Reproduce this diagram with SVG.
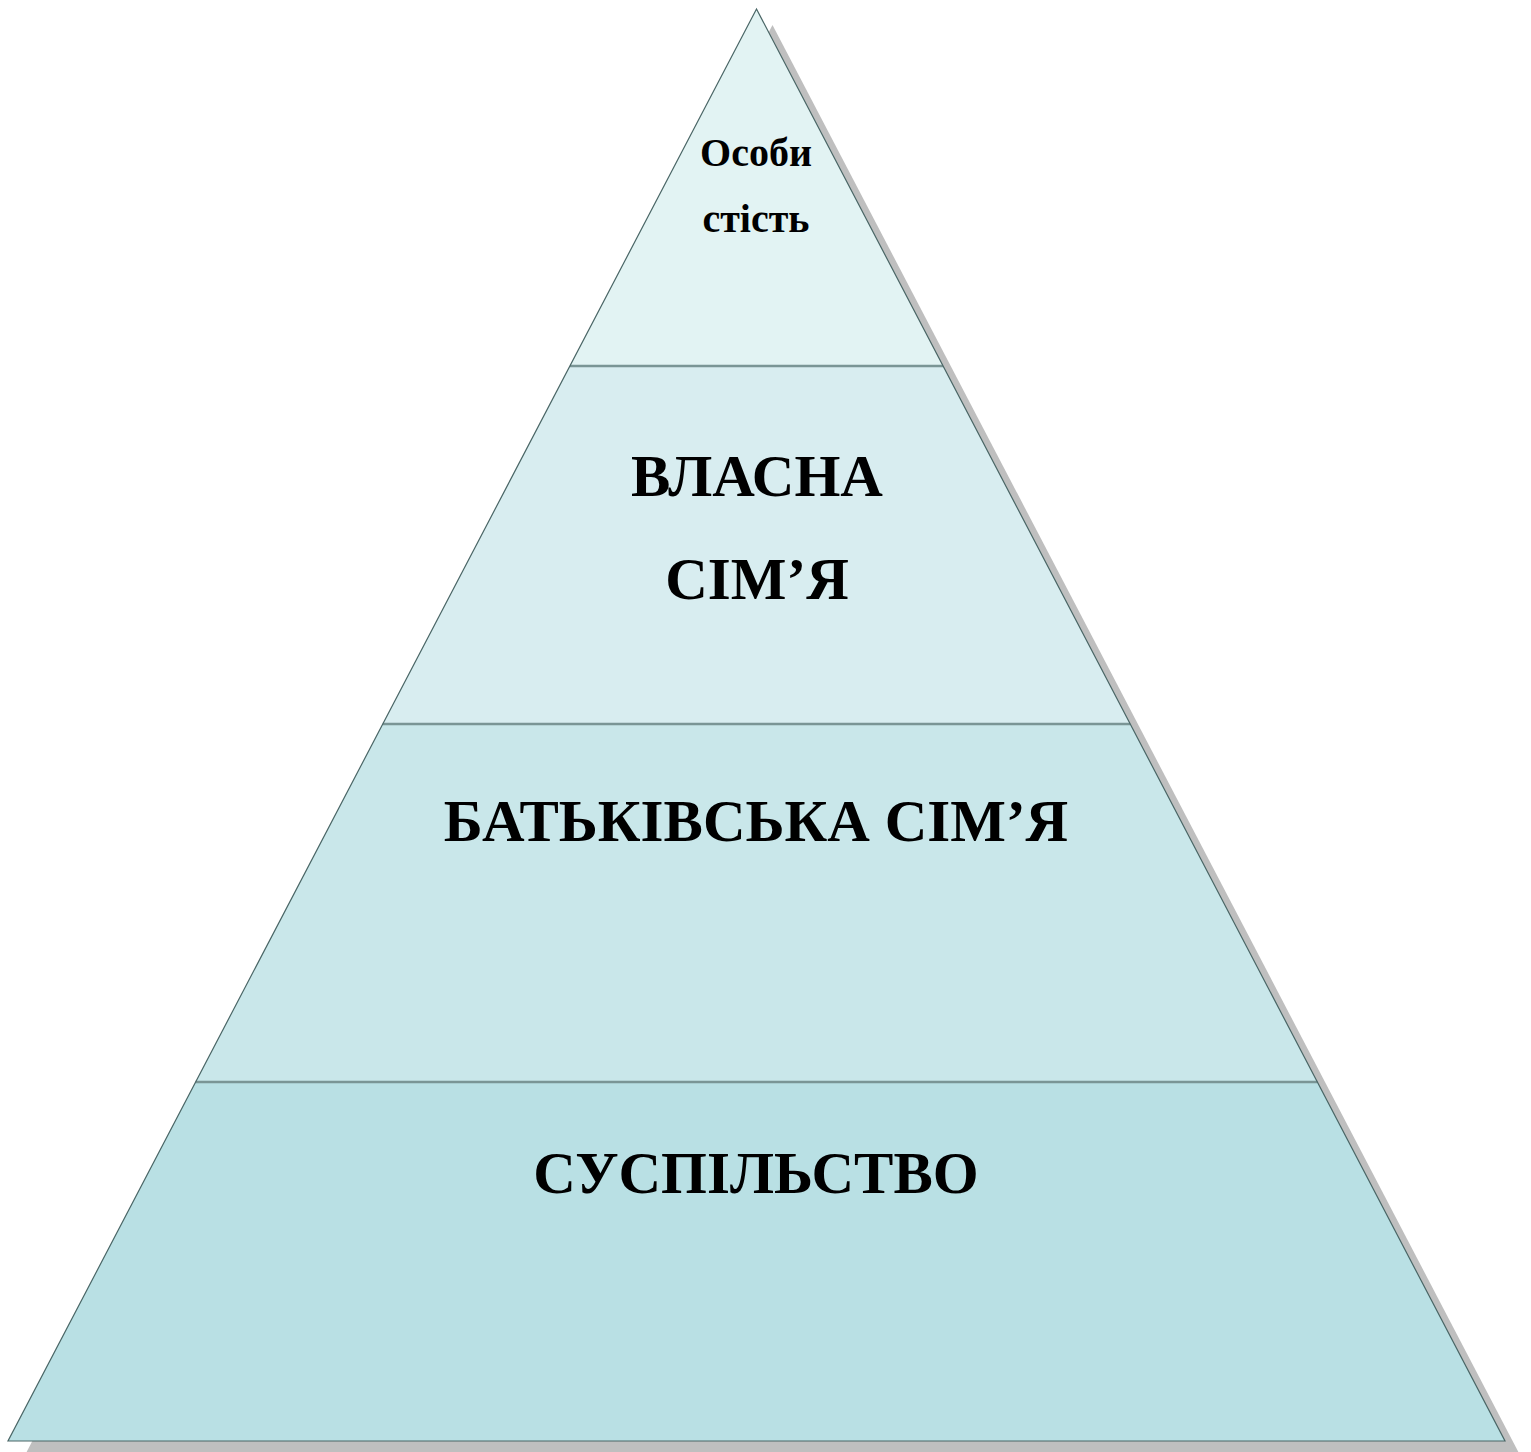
<svg xmlns="http://www.w3.org/2000/svg" width="1531" height="1452" viewBox="0 0 1531 1452">
<style>
.lbl{font-family:"Liberation Serif","Times New Roman",serif;font-weight:bold;fill:#000;text-anchor:middle}
.div{stroke:#7a9595;stroke-width:2.5;fill:none}
</style>
<rect width="1531" height="1452" fill="#fff"/>
<polygon id="shadow" points="772.5,25 1521,1457 24,1457" fill="#bfbfbf"/>
<g id="band-top"><polygon points="756.5,9 943,366 570,366" fill="#e2f3f3"/></g>
<g id="band-2"><polygon points="570,366 943,366 1130.2,724 382.8,724" fill="#d8edf0"/></g>
<g id="band-3"><polygon points="382.8,724 1130.2,724 1317.4,1082 195.6,1082" fill="#c9e7ea"/></g>
<g id="band-4"><polygon points="195.6,1082 1317.4,1082 1505,1441 8,1441" fill="#b9e0e4"/></g>
<g id="connectors">
<line class="div" x1="570" y1="366" x2="943" y2="366"/>
<line class="div" x1="382.8" y1="724" x2="1130.2" y2="724"/>
<line class="div" x1="195.6" y1="1082" x2="1317.4" y2="1082"/>
</g>
<polygon id="outline" points="756.5,9 1505,1441 8,1441" fill="none" stroke="#4a6666" stroke-width="1.2"/>
<g id="label-1">
<text class="lbl" x="756" y="166" font-size="40">Особи</text>
<text class="lbl" x="756" y="232" font-size="40">стість</text>
</g>
<g id="label-2">
<text class="lbl" x="757" y="496" font-size="59">ВЛАСНА</text>
<text class="lbl" x="757" y="599" font-size="59">СІМ’Я</text>
</g>
<g id="label-3"><text class="lbl" x="756" y="841" font-size="59">БАТЬКІВСЬКА СІМ’Я</text></g>
<g id="label-4"><text class="lbl" x="756" y="1193" font-size="59">СУСПІЛЬСТВО</text></g>
</svg>
